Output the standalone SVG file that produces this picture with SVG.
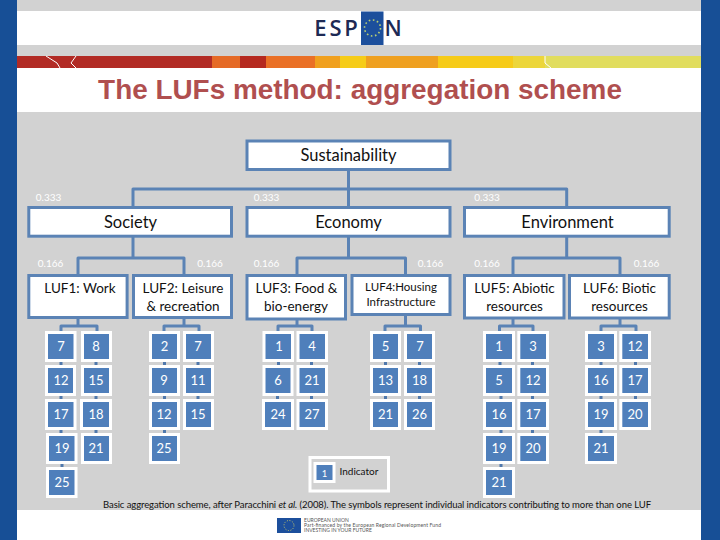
<svg xmlns="http://www.w3.org/2000/svg" width="720" height="540" viewBox="0 0 720 540">
<style>
text{font-family:"Lato","Liberation Sans",sans-serif;text-anchor:middle}
.box{fill:#fff;stroke:#5b83b5;stroke-width:3}
.t{fill:#111;font-size:13.5px}
.h{fill:#111;font-size:16.5px}
.w{fill:#fff;font-size:10px}
.i rect{fill:#4f7fbb;stroke:#fff;stroke-width:3}
.i text{fill:#fff;font-size:13px}
.c{fill:none;stroke:#5b83b5;stroke-width:3;stroke-linejoin:round}
.d{stroke:#4f78ac;stroke-width:3;fill:none}
</style>
<rect width="720" height="540" fill="#d2d2d2"/>
<rect x="17" y="11" width="684" height="34" fill="#fff"/>
<rect x="17" y="68" width="684" height="44" fill="#fff"/>
<rect x="17" y="510" width="684" height="30" fill="#fff"/>
<rect x="0" width="17" height="540" fill="#174f96"/>
<rect x="701" width="19" height="540" fill="#174f96"/>
<g id="stripe">
<rect x="17" y="56" width="213" height="12" fill="#b22b25"/>
<rect x="212" y="56" width="28" height="12" fill="#e56a26"/>
<rect x="240" y="56" width="26" height="12" fill="#b5291f"/>
<rect x="266" y="56" width="49" height="12" fill="#ea7026"/>
<rect x="315" y="56" width="25" height="12" fill="#f0a01e"/>
<rect x="340" y="56" width="26" height="12" fill="#f6cc18"/>
<rect x="366" y="56" width="72" height="12" fill="#efa020"/>
<rect x="438" y="56" width="75" height="12" fill="#f6cb18"/>
<rect x="513" y="56" width="32" height="12" fill="#ecd63a"/>
<rect x="545" y="56" width="156" height="12" fill="#e1dd5e"/>
<path d="M46 56 57 63 60 68M76 56 71 63 76 68M545 56V63L551 68" fill="none" stroke="#fff" stroke-width="1"/>
</g>
<g id="logo">
<rect x="361" y="11.500" width="22.500" height="33.500" fill="#1c4f9c"/>
<text x="337.500" y="36" style="font-size:22px;font-weight:600;letter-spacing:2.800px;fill:#1d2a55;font-family:'Open Sans',sans-serif">ESP</text>
<text x="393" y="36" style="font-size:22px;font-weight:600;fill:#1d2a55;font-family:'Open Sans',sans-serif">N</text>
<circle cx="372.500" cy="28" r="8" fill="none" stroke="#b9cf73" stroke-width="1.600" stroke-dasharray="1.600 2.600"/>
</g>
<text id="title" x="360" y="99" style="font-family:'Liberation Sans',sans-serif;font-weight:bold;font-size:27.900px;fill:#b04f4f">The LUFs method: aggregation scheme</text>

<g id="connectors">
<path class="c" d="M348.500 170V206M133 206V189H566.700V206"/>
<path class="c" d="M133 237V258M78 274V258H184V274"/>
<path class="c" d="M348.500 237V258M297 274V258H405.500V274"/>
<path class="c" d="M566.700 237V258M513 274V258H620V274"/>
<path class="c" d="M78 319V326M61 332V326H97V332"/>
<path class="c" d="M184 319V326M164 332V326H199V332"/>
<path class="c" d="M297 320V326M278 332V326H312V332"/>
<path class="c" d="M405.500 316V326M385 332V326H420.500V332"/>
<path class="c" d="M513 319V326M499.500 332V326H533V332"/>
<path class="c" d="M620 319V326M601 332V326H636V332"/>
<path class="d" d="M61 362v3M61 396v3M61 430v3M62 464v3M96 362v3M96 396v3M96 430v3"/>
<path class="d" d="M164.500 362v3M164.500 396v3M164.500 430v3M198 362v3M198 396v3"/>
<path class="d" d="M278.500 362v3M277.500 396v3M311.500 362v3M311.500 396v3"/>
<path class="d" d="M385.500 362v3M385.500 396v3M419.500 362v3M419.500 396v3"/>
<path class="d" d="M500 362v3M501 396v3M501 430v3M501 464v3M532.500 362v3M532.500 396v3M532.500 430v3"/>
<path class="d" d="M601 362v3M601 396v3M601 430v3M635.500 362v3M635.500 396v3"/>
</g>

<g id="sustainability"><rect class="box" x="247" y="141" width="203" height="28.500"/><text class="h" x="348.500" y="160.500">Sustainability</text></g>
<g id="society"><rect class="box" x="28.800" y="207.500" width="202.700" height="28.700"/><text class="h" x="130.500" y="227.500">Society</text></g>
<g id="economy"><rect class="box" x="247" y="207.500" width="203" height="28.700"/><text class="h" x="348.500" y="227.500">Economy</text></g>
<g id="environment"><rect class="box" x="464.500" y="207.500" width="204.700" height="28.700"/><text class="h" x="567.500" y="227.500">Environment</text></g>

<g id="weights">
<text class="w" x="48.500" y="201">0.333</text><text class="w" x="266.500" y="201">0.333</text><text class="w" x="487" y="201">0.333</text>
<text class="w" x="50.500" y="267">0.166</text><text class="w" x="210" y="267">0.166</text><text class="w" x="266.500" y="267">0.166</text><text class="w" x="430.500" y="267">0.166</text><text class="w" x="487" y="267">0.166</text><text class="w" x="646.500" y="267">0.166</text>
</g>

<g id="luf1"><rect class="box" x="28.800" y="275.500" width="98.300" height="42"/><text class="t" x="80" y="293">LUF1: Work</text></g>
<g id="luf2"><rect class="box" x="133.500" y="275.500" width="98" height="42"/><text class="t" x="183" y="293">LUF2: Leisure</text><text class="t" x="183" y="311">&amp; recreation</text></g>
<g id="luf3"><rect class="box" x="247" y="275.500" width="98.500" height="43.500"/><text class="t" x="296.500" y="293">LUF3: Food &amp;</text><text class="t" x="296" y="311">bio-energy</text></g>
<g id="luf4"><rect class="box" x="352" y="275.500" width="98" height="39"/><text x="401" y="291" style="fill:#111;font-size:11.500px">LUF4:Housing</text><text x="401" y="306" style="fill:#111;font-size:11.500px">Infrastructure</text></g>
<g id="luf5"><rect class="box" x="464.500" y="275.500" width="99.500" height="42.500"/><text class="t" x="514.500" y="293">LUF5: Abiotic</text><text class="t" x="514.500" y="311">resources</text></g>
<g id="luf6"><rect class="box" x="569.500" y="275.500" width="99.700" height="42.500"/><text class="t" x="619.500" y="293">LUF6: Biotic</text><text class="t" x="619.500" y="311">resources</text></g>

<g id="luf1-indicators" class="i">
<rect x="46.500" y="332.500" width="28.500" height="28"/><text x="61" y="351">7</text>
<rect x="82.500" y="332.500" width="28" height="28"/><text x="96" y="351">8</text>
<rect x="46.500" y="366.500" width="28" height="28"/><text x="61" y="385">12</text>
<rect x="82.500" y="366.500" width="28" height="28"/><text x="96" y="385">15</text>
<rect x="46.500" y="400.500" width="28.500" height="28"/><text x="61" y="419">17</text>
<rect x="81.500" y="400.500" width="29" height="28"/><text x="96" y="419">18</text>
<rect x="47.500" y="434.500" width="28.500" height="28"/><text x="62" y="453">19</text>
<rect x="82.500" y="434.500" width="28" height="28"/><text x="96" y="453">21</text>
<rect x="47.500" y="468.500" width="28.500" height="28"/><text x="62" y="487">25</text>
</g>
<g id="luf2-indicators" class="i">
<rect x="150.500" y="332.500" width="28" height="28"/><text x="164.500" y="351">2</text>
<rect x="184.500" y="332.500" width="28" height="28"/><text x="198" y="351">7</text>
<rect x="150.500" y="366.500" width="28" height="28"/><text x="164" y="385">9</text>
<rect x="184.500" y="366.500" width="28" height="28"/><text x="198" y="385">11</text>
<rect x="150.500" y="400.500" width="28" height="28"/><text x="164" y="419">12</text>
<rect x="184.500" y="400.500" width="28" height="28"/><text x="198" y="419">15</text>
<rect x="150.500" y="434.500" width="28" height="28"/><text x="164" y="453">25</text>
</g>
<g id="luf3-indicators" class="i">
<rect x="264" y="332.500" width="28.500" height="28"/><text x="279" y="351">1</text>
<rect x="298" y="332.500" width="28.500" height="28"/><text x="312" y="351">4</text>
<rect x="264" y="366.500" width="28" height="28"/><text x="278" y="385">6</text>
<rect x="298" y="366.500" width="28.500" height="28"/><text x="312" y="385">21</text>
<rect x="263.500" y="400.500" width="29" height="28"/><text x="278" y="419">24</text>
<rect x="298" y="400.500" width="28.500" height="28"/><text x="312" y="419">27</text>
</g>
<g id="luf4-indicators" class="i">
<rect x="371.500" y="332.500" width="28" height="28"/><text x="385.500" y="351">5</text>
<rect x="405.500" y="332.500" width="28" height="28"/><text x="420" y="351">7</text>
<rect x="371.500" y="366.500" width="28" height="28"/><text x="385.500" y="385">13</text>
<rect x="405.500" y="366.500" width="28" height="28"/><text x="419.500" y="385">18</text>
<rect x="371.500" y="400.500" width="28" height="28"/><text x="385.500" y="419">21</text>
<rect x="405.500" y="400.500" width="28" height="28"/><text x="419.500" y="419">26</text>
</g>
<g id="luf5-indicators" class="i">
<rect x="484.500" y="332.500" width="29" height="28"/><text x="499" y="351">1</text>
<rect x="518.800" y="332.500" width="28.700" height="28"/><text x="533" y="351">3</text>
<rect x="484.500" y="366.500" width="29" height="28"/><text x="499" y="385">5</text>
<rect x="518.800" y="366.500" width="28.700" height="28"/><text x="533" y="385">12</text>
<rect x="484.500" y="400.500" width="29" height="28"/><text x="499" y="419">16</text>
<rect x="518.800" y="400.500" width="28.700" height="28"/><text x="533" y="419">17</text>
<rect x="484.500" y="434.500" width="29" height="28"/><text x="499" y="453">19</text>
<rect x="518.800" y="434.500" width="28.700" height="28"/><text x="533" y="453">20</text>
<rect x="484.500" y="468.500" width="29" height="28"/><text x="499" y="487">21</text>
</g>
<g id="luf6-indicators" class="i">
<rect x="586.500" y="332.500" width="29" height="28"/><text x="601" y="351">3</text>
<rect x="620.800" y="332.500" width="28.700" height="28"/><text x="635" y="351">12</text>
<rect x="586.500" y="366.500" width="29" height="28"/><text x="601" y="385">16</text>
<rect x="620.800" y="366.500" width="28.700" height="28"/><text x="635" y="385">17</text>
<rect x="586.500" y="400.500" width="29" height="28"/><text x="601" y="419">19</text>
<rect x="620.800" y="400.500" width="28.700" height="28"/><text x="635" y="419">20</text>
<rect x="586.500" y="434.500" width="29" height="28"/><text x="601" y="453">21</text>
</g>

<g id="legend">
<rect x="310" y="457.500" width="78.500" height="33.500" fill="none" stroke="#fff" stroke-width="3"/>
<g class="i"><rect x="315" y="463.500" width="19" height="18"/><text x="324.500" y="476.500" style="font-size:9.500px">1</text></g>
<text x="339.500" y="474.500" style="text-anchor:start;fill:#111;font-size:10px">Indicator</text>
</g>
<text id="caption" x="103" y="507.500" textLength="548" style="text-anchor:start;fill:#111;font-size:9.500px">Basic aggregation scheme, after Paracchini <tspan font-style="italic">et al.</tspan> (2008). The symbols represent individual indicators contributing to more than one LUF</text>
<g id="eu-footer">
<rect x="277" y="518" width="24" height="15" fill="#1c4f9c"/>
<circle cx="289" cy="525.500" r="5" fill="none" stroke="#c9c96a" stroke-width="1" stroke-dasharray="1 1.600"/>
<g style="fill:#555;font-size:5px">
<text x="304" y="521.500" style="text-anchor:start">EUROPEAN UNION</text>
<text x="304" y="526.500" style="text-anchor:start" textLength="137">Part-financed by the European Regional Development Fund</text>
<text x="304" y="531.500" style="text-anchor:start">INVESTING IN YOUR FUTURE</text>
</g>
</g>
</svg>
